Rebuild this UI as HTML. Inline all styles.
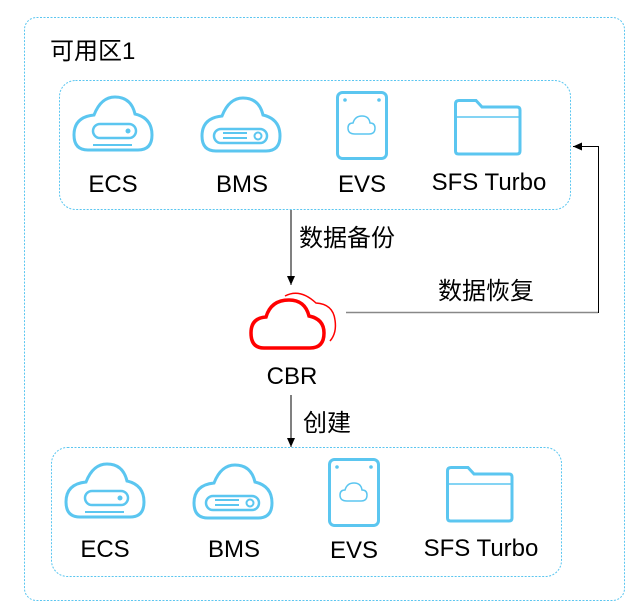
<!DOCTYPE html>
<html><head><meta charset="utf-8"><style>
html,body{margin:0;padding:0;background:#fff;}
svg{display:block;}
text{font-family:"Liberation Sans","Noto Sans CJK SC",sans-serif;fill:#000;}
</style></head><body>
<svg width="639" height="613" viewBox="0 0 639 613" xmlns="http://www.w3.org/2000/svg">
<defs>
<path id="cl" d="M14,53 Q0,53 0,38 Q0,20 20,18 Q27,0 41,0 Q57,0 61,17 Q78,21 78,38 Q78,53 64,53 Z" fill="none" stroke="#5bc6f0" stroke-width="3"/>
<g id="ecs">
<use href="#cl"/>
<rect x="19" y="27" width="43" height="14" rx="7" fill="none" stroke="#5bc6f0" stroke-width="2.5"/>
<circle cx="54" cy="34" r="2.5" fill="#5bc6f0"/>
<line x1="19" y1="48" x2="58" y2="48" stroke="#5bc6f0" stroke-width="2"/>
</g>
<g id="bms">
<use href="#cl"/>
<rect x="12" y="31" width="53" height="14" rx="7" fill="none" stroke="#5bc6f0" stroke-width="2.5"/>
<line x1="21" y1="35" x2="45" y2="35" stroke="#5bc6f0" stroke-width="2"/>
<line x1="21" y1="40" x2="45" y2="40" stroke="#5bc6f0" stroke-width="2"/>
<circle cx="56" cy="38" r="3.5" fill="none" stroke="#5bc6f0" stroke-width="2"/>
</g>
<g id="evs">
<rect x="1.5" y="1.5" width="49" height="66" rx="5" fill="none" stroke="#5bc6f0" stroke-width="3"/>
<circle cx="9" cy="9" r="1.8" fill="#5bc6f0"/>
<circle cx="43" cy="9" r="1.8" fill="#5bc6f0"/>
<path d="M19,43 Q12,43 12,37 Q12,32 17,32 Q19,25 26,25 Q33,25 34,32 Q39,32 39,37 Q39,43 33,43 Z" fill="none" stroke="#5bc6f0" stroke-width="1.5"/>
</g>
<g id="sfs">
<path d="M1.5,52 L1.5,5 Q1.5,1.5 5,1.5 L22,1.5 L28,8 L63,8 Q66,8 66,11 L66,52 Q66,55 63,55 L4.5,55 Q1.5,55 1.5,52 Z" fill="none" stroke="#5bc6f0" stroke-width="3"/>
<line x1="2" y1="18" x2="66" y2="18" stroke="#5bc6f0" stroke-width="1.5"/>
</g>
<marker id="ar" markerWidth="10" markerHeight="10" refX="9" refY="5" orient="auto" markerUnits="userSpaceOnUse"><path d="M0,1 L9,5 L0,9 Z" fill="#000"/></marker>
</defs>
<rect x="24.5" y="17.5" width="600" height="583" rx="12" fill="none" stroke="#5bc6f0" stroke-dasharray="2,1.5" stroke-width="1"/>
<text x="50" y="59" font-size="24">可用区1</text>
<rect x="59.5" y="80.5" width="511" height="129" rx="16" fill="none" stroke="#5bc6f0" stroke-dasharray="2,1.5" stroke-width="1"/>
<use href="#ecs" x="74" y="97"/>
<use href="#bms" x="202" y="98"/>
<use href="#evs" x="336" y="91"/>
<use href="#sfs" x="454" y="99"/>
<text x="113" y="192" font-size="24" text-anchor="middle">ECS</text>
<text x="242" y="192" font-size="24" text-anchor="middle">BMS</text>
<text x="362" y="192" font-size="24" text-anchor="middle">EVS</text>
<text x="489" y="190" font-size="24" text-anchor="middle">SFS Turbo</text>

<rect x="51.5" y="447.5" width="510" height="129" rx="16" fill="none" stroke="#5bc6f0" stroke-dasharray="2,1.5" stroke-width="1"/>
<use href="#ecs" x="66" y="464"/>
<use href="#bms" x="194" y="465"/>
<use href="#evs" x="328" y="458"/>
<use href="#sfs" x="446" y="466"/>
<text x="105" y="557" font-size="24" text-anchor="middle">ECS</text>
<text x="234" y="557" font-size="24" text-anchor="middle">BMS</text>
<text x="354" y="558" font-size="24" text-anchor="middle">EVS</text>
<text x="481" y="556" font-size="24" text-anchor="middle">SFS Turbo</text>

<line x1="291" y1="210" x2="291" y2="285" stroke="#000" stroke-width="1" marker-end="url(#ar)"/>
<text x="299" y="246" font-size="24">数据备份</text>
<path d="M264,348 Q251,348 251,333 Q251,318 266,317 Q271,300 289,300 Q305,300 309,316 Q324,319 324,333 Q324,348 310,348 Z" fill="none" stroke="#f00" stroke-width="3.5"/>
<path d="M285,296 Q300,288 316,303 Q333,304 335,320 Q337,333 330,341" fill="none" stroke="#f00" stroke-width="1.5"/>
<text x="292" y="384" font-size="24" text-anchor="middle">CBR</text>
<line x1="291" y1="395" x2="291" y2="447" stroke="#000" stroke-width="1" marker-end="url(#ar)"/>
<text x="303" y="431" font-size="24">创建</text>
<polyline points="346,312.5 598.5,312.5 598.5,146.5 573,146.5" fill="none" stroke="#000" stroke-width="1" marker-end="url(#ar)"/>
<line x1="346" y1="312.5" x2="598" y2="312.5" stroke="#888" stroke-width="1.5"/>
<text x="438" y="299" font-size="24">数据恢复</text>
</svg>
</body></html>
